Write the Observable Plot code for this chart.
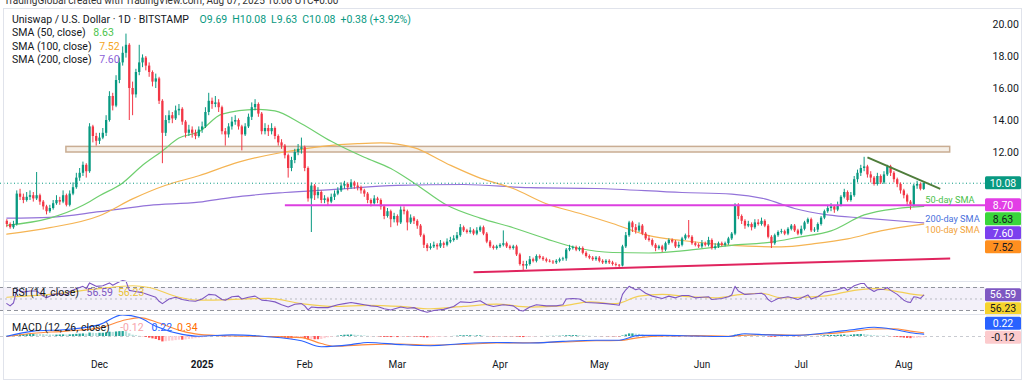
<!DOCTYPE html>
<html><head><meta charset="utf-8">
<script src="https://cdn.jsdelivr.net/npm/d3@7"></script>
<script src="https://cdn.jsdelivr.net/npm/@observablehq/plot@0.6"></script>
<style>
body{margin:0;background:#fff;font-family:Roboto,"Noto Sans",sans-serif;}
#wrap{position:relative;width:1024px;height:380px;overflow:hidden;background:#fff;}
.abs{position:absolute;}
.lg{position:absolute;left:12px;font-size:10.5px;line-height:13.4px;color:#131722;white-space:nowrap;}
.lg span{margin-left:5px;}
.sep{position:absolute;left:3px;width:1018px;height:1px;background:#e0e3eb;}
svg{overflow:visible;}
</style></head><body><div id="wrap"></div>
<script>
// ---------------- DATA ----------------
const firstDay = "2024-11-03";
const opens = [7.7,7.5,7.3,7.5,9.4,9.2,9.0,9.2,
9.3,9.1,9.3,8.9,8.6,8.3,8.5,8.8,9.0,8.9,
9.3,8.7,9.4,9.8,10.4,10.7,11.2,10.8,13.6,13.0,
12.7,12.9,13.2,14.0,15.5,14.9,16.5,17.6,18.2,18.7,
16.0,15.6,17.0,17.6,17.9,17.4,17.0,16.4,16.6,15.2,
13.2,14.0,14.3,14.1,14.6,14.7,13.9,13.2,13.4,13.2,
13.0,13.4,13.6,14.5,15.2,15.0,15.1,14.8,13.3,13.1,
13.6,13.9,14.0,13.6,13.1,13.6,14.2,14.8,15.0,14.4,
13.3,13.5,13.3,13.5,13.0,12.6,12.4,11.8,11.0,11.5,
12.0,12.2,12.3,11.0,9.1,9.9,9.3,9.5,9.0,9.1,
8.9,9.2,9.4,9.6,9.9,10.0,9.8,10.1,9.9,9.8,
9.6,9.4,9.0,8.8,9.1,9.0,8.6,8.0,8.3,7.8,
8.0,7.6,8.4,8.3,7.6,7.9,7.7,7.4,6.8,6.2,
6.0,6.1,6.2,6.1,6.3,6.2,6.4,6.5,6.6,6.8,
7.3,7.1,7.0,7.1,6.9,7.1,7.3,6.9,6.4,6.1,
6.0,6.1,6.2,6.3,6.1,6.0,6.1,5.6,5.0,4.9,
5.0,5.3,5.2,5.5,5.4,5.3,5.2,5.15,5.1,5.2,
5.3,5.35,5.9,6.0,6.05,5.9,6.0,5.7,5.5,5.4,
5.3,5.4,5.2,5.1,5.2,5.1,5.0,4.95,4.9,6.1,
6.8,7.6,7.3,7.1,7.4,6.9,6.6,6.5,6.2,6.0,
6.1,5.9,6.3,6.5,6.4,6.1,6.2,6.6,6.8,6.7,
6.3,6.2,6.1,6.3,6.2,6.5,6.0,6.1,6.3,6.2,
6.3,6.6,6.9,8.7,8.0,7.7,7.4,7.5,7.3,7.6,
7.5,7.7,7.4,6.7,6.3,6.8,7.0,7.05,6.9,7.2,
7.4,7.1,6.9,7.2,7.6,7.8,7.1,7.15,7.5,7.9,
8.3,8.5,8.6,8.4,8.7,9.2,9.5,9.0,9.3,10.3,
10.7,11.0,11.1,10.6,10.4,10.0,10.5,10.1,10.6,11.1,
10.7,10.3,10.0,9.6,9.3,8.9,8.7,9.9,10.0,9.69];
const highs = [7.8,7.6,7.7,9.6,9.7,9.4,9.5,9.6,
9.5,10.75,9.4,9.0,8.7,8.7,9.0,9.3,9.2,9.6,
9.4,9.6,10.1,10.7,11.0,11.4,11.3,13.8,13.7,13.2,
13.2,13.5,14.3,15.8,15.7,16.8,17.9,18.6,19.4,18.8,
16.4,17.2,18.7,18.1,18.0,17.6,17.1,16.9,16.7,15.3,
14.3,14.6,14.5,14.9,15.0,14.8,14.0,13.7,13.6,13.4,
13.6,13.9,14.8,15.7,15.4,15.5,15.3,14.9,13.5,13.8,
14.2,14.3,14.1,13.7,13.8,14.4,15.1,15.3,15.1,14.5,
13.8,13.7,13.8,13.6,13.1,12.8,12.5,11.9,11.7,12.2,
12.5,12.9,12.4,11.1,10.1,10.0,9.8,9.6,9.3,9.2,
9.4,9.6,9.8,10.1,10.2,10.1,10.3,10.2,10.1,9.9,
9.7,9.5,9.1,9.3,9.2,9.1,8.7,8.5,8.4,8.2,
8.1,8.6,8.6,8.4,8.1,8.0,7.8,7.5,6.9,6.3,
6.3,6.4,6.3,6.5,6.4,6.6,6.7,6.8,7.0,7.5,
7.4,7.2,7.3,7.2,7.3,7.4,7.4,7.0,6.5,6.2,
6.2,6.3,7.1,6.4,6.2,6.2,6.2,5.7,5.2,5.2,
5.5,5.4,5.6,5.6,5.5,5.4,5.3,5.25,5.3,5.4,
5.45,6.0,6.2,6.15,6.15,6.1,6.1,5.8,5.6,5.5,
5.5,5.5,5.3,5.3,5.3,5.2,5.1,5.0,6.2,7.0,
7.7,7.7,7.5,7.6,7.5,7.0,6.8,6.6,6.3,6.2,
6.2,6.4,6.6,6.6,6.5,6.4,6.7,6.9,7.75,6.8,
6.4,6.3,6.5,6.4,6.7,6.6,6.3,6.4,6.4,6.4,
6.7,7.0,8.8,8.8,8.1,7.8,7.7,7.6,7.8,7.8,
7.9,7.8,7.5,6.8,6.9,7.1,7.2,7.15,7.3,7.5,
7.5,7.2,7.4,7.7,7.9,7.9,7.3,7.6,8.0,8.4,
8.7,8.8,8.7,8.9,9.3,9.7,9.6,9.5,10.5,10.9,
11.2,11.7,11.2,10.8,10.5,10.7,10.6,10.8,11.2,11.2,
10.8,10.4,10.1,9.7,9.4,9.0,10.0,10.2,10.1,10.08];
const lows = [7.3,7.2,7.2,7.4,9.0,8.8,8.9,9.0,
8.9,9.0,8.7,8.4,8.1,8.2,8.4,8.7,8.7,8.8,
8.6,8.6,9.3,9.7,10.2,10.5,10.4,10.7,12.6,12.4,
12.5,12.8,13.0,13.9,14.6,14.8,16.3,17.4,17.9,14.0,
14.3,15.4,16.8,17.3,17.1,16.7,16.1,16.0,15.0,11.3,
13.0,13.8,13.8,14.0,14.3,13.7,12.9,13.0,12.9,12.8,
12.9,13.2,13.5,14.3,14.7,14.8,14.5,13.1,12.4,12.9,
13.4,13.7,13.4,12.1,13.0,13.5,14.0,14.6,14.2,13.1,
13.1,13.0,13.1,12.8,12.4,12.2,11.6,10.4,10.8,11.3,
11.8,11.9,10.8,8.9,7.0,9.0,9.1,8.8,8.8,8.7,
8.8,9.0,9.3,9.5,9.7,9.6,9.7,9.7,9.6,9.4,
9.2,8.8,8.6,8.7,8.8,8.4,7.8,7.9,7.3,7.6,
7.4,7.5,8.1,7.1,7.5,7.5,7.2,6.7,6.0,5.8,
5.9,6.0,5.9,6.0,6.0,6.1,6.3,6.4,6.5,6.7,
7.0,6.9,6.9,6.8,6.8,7.0,6.8,6.3,6.0,5.9,
5.9,6.0,6.1,6.0,5.9,5.9,5.5,4.9,4.6,4.7,
4.9,5.1,5.1,5.3,5.2,5.1,5.1,5.0,5.0,5.1,
5.2,5.2,5.8,5.9,5.8,5.8,5.6,5.4,5.3,5.2,
5.2,5.1,5.0,5.0,5.0,4.9,4.85,4.8,4.85,6.0,
6.7,7.0,6.9,7.0,6.8,6.5,6.4,6.1,5.8,5.9,
5.75,5.8,6.2,6.3,6.0,6.0,6.1,6.5,6.6,6.2,
6.1,6.0,6.0,6.1,6.1,5.9,5.9,6.0,6.1,6.1,
6.2,6.5,6.8,7.8,7.5,7.2,7.3,7.1,7.2,7.4,
7.4,7.3,6.6,6.0,6.2,6.7,6.9,6.8,6.8,7.1,
7.0,6.8,6.8,7.1,7.5,7.0,7.0,7.0,7.4,7.8,
8.2,8.3,8.2,8.3,8.6,9.1,8.9,8.9,9.2,10.1,
10.5,10.8,10.4,10.1,9.9,9.9,10.0,10.0,10.5,10.5,
10.1,9.8,9.4,9.1,8.7,8.4,8.6,9.7,9.6,9.63];
const closes = [7.5,7.3,7.5,9.4,9.2,9.0,9.2,9.3,
9.1,9.3,8.9,8.6,8.3,8.5,8.8,9.0,8.9,9.3,
8.7,9.4,9.8,10.4,10.7,11.2,10.8,13.6,13.0,12.7,
12.9,13.2,14.0,15.5,14.9,16.5,17.6,18.2,18.7,16.0,
15.6,17.0,17.6,17.9,17.4,17.0,16.4,16.6,15.2,13.2,
14.0,14.3,14.1,14.6,14.7,13.9,13.2,13.4,13.2,13.0,
13.4,13.6,14.5,15.2,15.0,15.1,14.8,13.3,13.1,13.6,
13.9,14.0,13.6,13.1,13.6,14.2,14.8,15.0,14.4,13.3,
13.5,13.3,13.5,13.0,12.6,12.4,11.8,11.0,11.5,12.0,
12.2,12.3,11.0,9.1,9.9,9.3,9.5,9.0,9.1,8.9,
9.2,9.4,9.6,9.9,10.0,9.8,10.1,9.9,9.8,9.6,
9.4,9.0,8.8,9.1,9.0,8.6,8.0,8.3,7.8,8.0,
7.6,8.4,8.3,7.6,7.9,7.7,7.4,6.8,6.2,6.0,
6.1,6.2,6.1,6.3,6.2,6.4,6.5,6.6,6.8,7.3,
7.1,7.0,7.1,6.9,7.1,7.3,6.9,6.4,6.1,6.0,
6.1,6.2,6.3,6.1,6.0,6.1,5.6,5.0,4.9,5.0,
5.3,5.2,5.5,5.4,5.3,5.2,5.15,5.1,5.2,5.3,
5.35,5.9,6.0,6.05,5.9,6.0,5.7,5.5,5.4,5.3,
5.4,5.2,5.1,5.2,5.1,5.0,4.95,4.9,6.1,6.8,
7.6,7.3,7.1,7.4,6.9,6.6,6.5,6.2,6.0,6.1,
5.9,6.3,6.5,6.4,6.1,6.2,6.6,6.8,6.7,6.3,
6.2,6.1,6.3,6.2,6.5,6.0,6.1,6.3,6.2,6.3,
6.6,6.9,8.7,8.0,7.7,7.4,7.5,7.3,7.6,7.5,
7.7,7.4,6.7,6.3,6.8,7.0,7.05,6.9,7.2,7.4,
7.1,6.9,7.2,7.6,7.8,7.1,7.15,7.5,7.9,8.3,
8.5,8.6,8.4,8.7,9.2,9.5,9.0,9.3,10.3,10.7,
11.0,11.1,10.6,10.4,10.0,10.5,10.1,10.6,11.1,10.7,
10.3,10.0,9.6,9.3,8.9,8.7,9.9,10.0,9.70,10.08];

const sma50 = [["2024-11-03",7.45],["2024-11-16",7.9],["2024-11-26",8.7],["2024-12-01",9.3],["2024-12-08",10.1],["2024-12-14",11.2],["2024-12-20",12.1],["2024-12-25",12.9],["2024-12-31",13.3],["2025-01-07",14.4],["2025-01-18",14.7],["2025-01-23",14.6],["2025-01-31",13.8],["2025-02-09",12.7],["2025-02-19",11.7],["2025-02-27",11.0],["2025-03-06",10.1],["2025-03-16",8.7],["2025-03-26",7.9],["2025-04-05",7.3],["2025-04-15",6.6],["2025-04-25",6.0],["2025-05-05",5.75],["2025-05-16",5.72],["2025-05-26",5.85],["2025-06-10",6.2],["2025-06-22",6.4],["2025-06-30",6.7],["2025-07-10",7.1],["2025-07-20",8.1],["2025-07-30",8.5],["2025-08-07",8.63]];
const sma100 = [["2024-11-03",6.9],["2024-11-16",7.3],["2024-12-01",8.05],["2024-12-11",9.1],["2024-12-21",9.95],["2024-12-31",10.55],["2025-01-12",11.4],["2025-01-25",12.0],["2025-02-07",12.4],["2025-02-17",12.55],["2025-02-24",12.6],["2025-03-06",12.3],["2025-03-16",11.3],["2025-03-26",10.4],["2025-04-05",9.75],["2025-04-15",8.8],["2025-04-25",8.2],["2025-05-05",7.56],["2025-05-16",6.8],["2025-05-26",6.5],["2025-06-10",6.2],["2025-06-25",6.1],["2025-07-05",6.3],["2025-07-15",6.6],["2025-07-25",7.1],["2025-08-07",7.52]];
const sma200 = [["2024-11-03",7.9],["2024-11-16",7.95],["2024-12-01",8.3],["2024-12-16",8.7],["2024-12-31",8.9],["2025-01-10",9.2],["2025-01-26",9.5],["2025-02-10",9.7],["2025-03-01",9.95],["2025-03-21",10.0],["2025-04-10",9.8],["2025-04-30",9.75],["2025-05-26",9.5],["2025-06-10",9.4],["2025-06-20",9.1],["2025-06-29",8.5],["2025-07-09",8.1],["2025-07-20",7.9],["2025-08-07",7.6]];

const rsi = [["2024-11-03",42],["2024-11-04",38],["2024-11-05",43],["2024-11-06",66],["2024-11-08",62],["2024-11-10",64],["2024-11-12",64],["2024-11-14",55],["2024-11-15",52],["2024-11-17",58],["2024-11-19",59],["2024-11-21",57],["2024-11-22",63],["2024-11-24",68],["2024-11-26",72],["2024-11-27",68],["2024-11-28",78],["2024-11-30",72],["2024-12-02",73],["2024-12-04",78],["2024-12-05",74],["2024-12-07",80],["2024-12-08",82],["2024-12-09",81],["2024-12-10",65],["2024-12-11",64],["2024-12-13",62],["2024-12-14",61],["2024-12-16",57],["2024-12-18",53],["2024-12-19",46],["2024-12-20",42],["2024-12-22",50],["2024-12-24",53],["2024-12-26",49],["2024-12-28",47],["2024-12-30",46],["2025-01-01",50],["2025-01-03",58],["2025-01-05",57],["2025-01-07",49],["2025-01-08",48],["2025-01-10",54],["2025-01-12",55],["2025-01-13",50],["2025-01-15",53],["2025-01-17",55],["2025-01-19",48],["2025-01-21",47],["2025-01-23",45],["2025-01-25",40],["2025-01-27",36],["2025-01-29",41],["2025-01-31",42],["2025-02-01",38],["2025-02-02",31],["2025-02-03",36],["2025-02-05",35],["2025-02-08",35],["2025-02-11",40],["2025-02-13",42],["2025-02-15",44],["2025-02-17",42],["2025-02-19",40],["2025-02-21",38],["2025-02-23",37],["2025-02-25",33],["2025-02-27",31],["2025-03-02",36],["2025-03-04",34],["2025-03-06",35],["2025-03-08",30],["2025-03-10",27],["2025-03-12",30],["2025-03-15",32],["2025-03-18",37],["2025-03-20",45],["2025-03-23",44],["2025-03-26",47],["2025-03-28",40],["2025-03-30",37],["2025-04-02",40],["2025-04-05",38],["2025-04-07",30],["2025-04-08",29],["2025-04-10",36],["2025-04-12",40],["2025-04-15",38],["2025-04-18",38],["2025-04-20",40],["2025-04-21",50],["2025-04-23",51],["2025-04-25",50],["2025-04-27",44],["2025-04-30",43],["2025-05-03",42],["2025-05-06",40],["2025-05-07",39],["2025-05-08",58],["2025-05-09",66],["2025-05-10",72],["2025-05-12",66],["2025-05-13",68],["2025-05-15",60],["2025-05-17",55],["2025-05-20",51],["2025-05-22",55],["2025-05-24",52],["2025-05-26",56],["2025-05-28",56],["2025-05-30",52],["2025-06-01",53],["2025-06-03",54],["2025-06-04",49],["2025-06-07",51],["2025-06-09",54],["2025-06-10",57],["2025-06-11",72],["2025-06-12",64],["2025-06-14",58],["2025-06-17",59],["2025-06-19",60],["2025-06-20",57],["2025-06-21",49],["2025-06-22",45],["2025-06-24",51],["2025-06-27",54],["2025-06-29",51],["2025-06-30",49],["2025-07-03",57],["2025-07-04",50],["2025-07-06",54],["2025-07-08",62],["2025-07-10",64],["2025-07-12",66],["2025-07-14",70],["2025-07-15",65],["2025-07-17",73],["2025-07-19",77],["2025-07-20",77],["2025-07-21",70],["2025-07-23",63],["2025-07-24",66],["2025-07-26",67],["2025-07-27",70],["2025-07-28",65],["2025-07-30",58],["2025-08-01",48],["2025-08-02",45],["2025-08-03",44],["2025-08-04",54],["2025-08-05",53],["2025-08-06",51],["2025-08-07",56.59]];
const rsiMA = [["2024-11-03",53],["2024-11-16",58],["2024-12-01",68],["2024-12-11",73],["2024-12-16",70],["2024-12-25",53],["2024-12-31",48],["2025-01-21",51],["2025-01-31",42],["2025-02-10",37],["2025-02-20",39],["2025-03-02",37],["2025-03-11",33],["2025-03-21",37],["2025-03-31",41],["2025-04-10",36],["2025-04-20",38],["2025-04-28",45],["2025-05-06",42],["2025-05-13",55],["2025-05-20",58],["2025-05-28",54],["2025-06-05",52],["2025-06-13",58],["2025-06-19",60],["2025-06-25",52],["2025-07-01",53],["2025-07-09",56],["2025-07-17",65],["2025-07-23",68],["2025-07-27",66],["2025-07-31",62],["2025-08-04",58],["2025-08-07",56.23]];

const macd = [["2024-11-03",0.02],["2024-11-11",0.5],["2024-11-21",0.65],["2024-12-01",1.1],["2024-12-08",2.0],["2024-12-13",1.75],["2024-12-18",0.95],["2024-12-26",0.2],["2024-12-31",0.03],["2025-01-10",0.15],["2025-01-20",0.0],["2025-01-31",-0.4],["2025-02-06",-0.95],["2025-02-15",-0.75],["2025-02-20",-0.55],["2025-03-02",-0.75],["2025-03-11",-0.85],["2025-03-21",-0.65],["2025-03-31",-0.55],["2025-04-10",-0.6],["2025-04-20",-0.45],["2025-04-30",-0.35],["2025-05-07",-0.35],["2025-05-13",0.1],["2025-05-20",0.1],["2025-05-30",0.05],["2025-06-09",0.0],["2025-06-14",0.25],["2025-06-21",0.15],["2025-06-29",0.1],["2025-07-09",0.35],["2025-07-17",0.65],["2025-07-23",0.85],["2025-07-29",0.65],["2025-08-03",0.35],["2025-08-07",0.22]];
const signal = [["2024-11-03",0.0],["2024-11-11",0.3],["2024-11-21",0.5],["2024-12-01",0.8],["2024-12-09",1.55],["2024-12-13",1.75],["2024-12-19",1.25],["2024-12-26",0.5],["2024-12-31",0.2],["2025-01-10",0.05],["2025-01-20",0.0],["2025-01-31",-0.1],["2025-02-06",-0.65],["2025-02-10",-0.9],["2025-02-20",-0.75],["2025-03-02",-0.7],["2025-03-11",-0.8],["2025-03-21",-0.72],["2025-03-31",-0.6],["2025-04-10",-0.58],["2025-04-20",-0.5],["2025-04-30",-0.4],["2025-05-07",-0.37],["2025-05-13",-0.1],["2025-05-20",0.05],["2025-05-30",0.08],["2025-06-09",0.03],["2025-06-14",0.12],["2025-06-21",0.18],["2025-06-29",0.12],["2025-07-09",0.25],["2025-07-17",0.5],["2025-07-23",0.7],["2025-07-29",0.72],["2025-08-03",0.5],["2025-08-07",0.34]];
const histogram = [0.02,0.05,0.06,0.12,0.15,0.17,0.18,0.18,
0.2,0.19,0.18,0.17,0.15,0.14,0.13,0.13,0.14,0.15,
0.14,0.15,0.17,0.2,0.22,0.24,0.22,0.32,0.3,0.28,
0.3,0.3,0.34,0.4,0.38,0.42,0.45,0.46,0.44,0.25,
0.12,0.08,0.02,-0.02,-0.08,-0.15,-0.22,-0.28,-0.38,-0.5,
-0.48,-0.44,-0.42,-0.38,-0.34,-0.34,-0.32,-0.28,-0.24,-0.2,
-0.16,-0.12,-0.04,0.04,0.06,0.08,0.06,-0.02,-0.05,-0.04,
0.0,0.02,0.02,-0.01,0.0,0.03,0.06,0.08,0.06,0.0,
-0.02,-0.04,-0.05,-0.07,-0.1,-0.12,-0.16,-0.22,-0.22,-0.2,
-0.18,-0.16,-0.22,-0.32,-0.3,-0.3,-0.3,-0.28,-0.2,-0.12,
-0.06,-0.02,0.03,0.08,0.12,0.13,0.14,0.12,0.1,0.08,
0.05,0.02,-0.01,0.0,-0.02,-0.05,-0.08,-0.08,-0.1,-0.09,
-0.1,-0.05,-0.03,-0.05,-0.04,-0.04,-0.05,-0.08,-0.12,-0.13,
-0.12,-0.1,-0.08,-0.06,-0.05,-0.03,-0.01,0.01,0.03,0.07,
0.07,0.07,0.07,0.06,0.06,0.06,0.04,0.01,-0.02,-0.03,
-0.03,-0.02,-0.02,-0.02,-0.02,-0.02,-0.04,-0.08,-0.1,-0.09,
-0.06,-0.05,-0.02,-0.01,0.0,0.01,0.01,0.02,0.02,0.03,
0.04,0.07,0.08,0.08,0.08,0.07,0.05,0.04,0.02,0.01,
0.0,-0.01,-0.01,-0.01,-0.02,-0.02,-0.03,-0.03,0.05,0.14,
0.24,0.24,0.22,0.2,0.15,0.1,0.06,0.02,-0.01,-0.03,
-0.04,-0.03,-0.02,-0.03,-0.04,-0.04,-0.03,-0.02,-0.02,-0.03,
-0.04,-0.04,-0.03,-0.03,-0.02,-0.04,-0.04,-0.04,-0.04,-0.03,
-0.02,0.0,0.12,0.15,0.14,0.12,0.1,0.08,0.07,0.05,
0.04,0.02,-0.04,-0.08,-0.08,-0.07,-0.06,-0.05,-0.03,-0.02,
-0.02,-0.03,-0.01,0.01,0.03,0.0,-0.01,0.01,0.04,0.07,
0.09,0.1,0.1,0.11,0.13,0.14,0.12,0.12,0.16,0.18,
0.19,0.18,0.14,0.1,0.07,0.05,0.03,0.02,0.02,-0.01,
-0.05,-0.08,-0.12,-0.15,-0.18,-0.2,-0.17,-0.15,-0.14,-0.12];

const supportLevel = 8.70;
const supportStart = "2025-01-26";
const band = {x1:"2024-11-21", x2:"2025-08-15", y1:12.0, y2:12.35};
const risingSupport = {x1:"2025-03-24", y1:4.52, x2:"2025-08-15", y2:5.38};
const fallingResistance = {x1:"2025-07-21", y1:11.7, x2:"2025-08-12", y2:9.73};
const annotations = [
  {date:"2025-08-07T12:00:00Z", price:9.0, text:"50-day SMA", color:"#4cbf4c"},
  {date:"2025-08-07T12:00:00Z", price:7.86, text:"200-day SMA", color:"#4a70dc"},
  {date:"2025-08-07T12:00:00Z", price:7.17, text:"100-day SMA", color:"#f2a33a"}
];
const priceTicks = [12,14,16,18,20];
const monthTicks = ["2024-12-01","2025-01-01","2025-02-01","2025-03-01","2025-04-01","2025-05-01","2025-06-01","2025-07-01","2025-08-01"];
const monthLabels = ["Dec","2025","Feb","Mar","Apr","May","Jun","Jul","Aug"];

// ---------------- BUILD ----------------
const UP="#089981", DOWN="#f23645";
const base = new Date(firstDay).getTime(), DAY=864e5;
const candles = closes.map((c,i)=>({date:new Date(base+i*DAY), open:opens[i], high:highs[i], low:lows[i], close:c}));
const pts = a => a.map(([d,v])=>({date:new Date(d), v}));
const hist = histogram.map((v,i)=>({date:new Date(base+i*DAY), v,
  color: v>=0 ? (i>0 && v<histogram[i-1] ? "#b2dfdb" : "#26a69a") : (i>0 && v>histogram[i-1] ? "#ffcdd2" : "#ff5252")}));
const last = candles[candles.length-1], prevClose = closes[closes.length-2];

const dec1 = Date.UTC(2024,11,1);
const xDomain = [new Date(dec1 - 29.91*DAY), new Date(dec1 + 267.67*DAY)];
const W=1024, MR=39;
const common = {width:W, marginLeft:0, marginRight:MR, marginTop:0, color:{type:"identity"},
  style:{fontFamily:"Roboto, 'Noto Sans', sans-serif", fontSize:"10px", color:"#131722", background:"transparent", overflow:"visible"}};
const wrap = document.getElementById("wrap");

function place(el, top){ el.style.position="absolute"; el.style.left="0px"; el.style.top=top+"px"; wrap.appendChild(el); }

function labels(chart, items, dir){
  const sy = chart.scale("y");
  const L = items.map(d=>({...d, y: sy.apply(d.value)}));
  if(dir==="down"){ L.sort((a,b)=>a.y-b.y); for(let i=1;i<L.length;i++) L[i].y=Math.max(L[i].y, L[i-1].y+14); }
  else { L.sort((a,b)=>b.y-a.y); for(let i=1;i<L.length;i++) L[i].y=Math.min(L[i].y, L[i-1].y-14); }
  const g = d3.select(chart).append("g");
  for(const d of L){
    g.append("rect").attr("x",W-MR).attr("y",d.y-6.5).attr("width",36).attr("height",13).attr("rx",1.5).attr("fill",d.bg);
    g.append("text").attr("x",W-MR+18).attr("y",d.y).attr("dy","0.36em").attr("text-anchor","middle")
      .attr("font-size",10.5).attr("fill",d.fg).text(d.text);
  }
}

// main price panel
const main = Plot.plot({...common, height:281, marginBottom:0,
  x:{type:"utc", domain:xDomain, axis:null},
  y:{domain:[3.9375,21.5], axis:null},
  marks:[
    Plot.rect([band],{x1:d=>new Date(d.x1), x2:d=>new Date(d.x2), y1:"y1", y2:"y2", fill:"#f5efe7", stroke:"#c9ad93", strokeWidth:1.5}),
    Plot.line(pts(sma200),{x:"date", y:"v", stroke:"#9373d9", strokeWidth:1.2, curve:"monotone-x"}),
    Plot.line(pts(sma100),{x:"date", y:"v", stroke:"#f5b453", strokeWidth:1.2, curve:"monotone-x"}),
    Plot.line(pts(sma50),{x:"date", y:"v", stroke:"#6fcf6f", strokeWidth:1.2, curve:"monotone-x"}),
    Plot.ruleY([last.close],{stroke:UP, strokeDasharray:"1,2.5", strokeWidth:1}),
    Plot.ruleX(candles,{x:"date", y1:"low", y2:"high", stroke:d=>d.close>=d.open?UP:DOWN, strokeWidth:1}),
    Plot.ruleX(candles,{x:"date", y1:"open", y2:"close", stroke:d=>d.close>=d.open?UP:DOWN, strokeWidth:2.3}),
    Plot.link([{a:new Date(supportStart), b:xDomain[1]}],{x1:"a", x2:"b", y1:supportLevel, y2:supportLevel, stroke:"#dc3fe0", strokeWidth:2}),
    Plot.link([risingSupport],{x1:d=>new Date(d.x1), x2:d=>new Date(d.x2), y1:"y1", y2:"y2", stroke:"#e0245e", strokeWidth:2}),
    Plot.link([fallingResistance],{x1:d=>new Date(d.x1), x2:d=>new Date(d.x2), y1:"y1", y2:"y2", stroke:"#4f7d3b", strokeWidth:2}),
    Plot.text(annotations,{x:d=>new Date(d.date), y:"price", text:"text", fill:"color", textAnchor:"start", fontSize:9.2}),
    Plot.axisY(priceTicks,{anchor:"right", tickSize:0, tickPadding:7, label:null, tickFormat:d=>d.toFixed(2), fill:"#131722", fontSize:10.5})
  ]});
place(main, 0);
labels(main, [
  {value:last.close, text:last.close.toFixed(2), bg:"#089981", fg:"#fff"},
  {value:supportLevel, text:supportLevel.toFixed(2), bg:"#e23ee6", fg:"#fff"},
  {value:sma50[sma50.length-1][1], text:sma50[sma50.length-1][1].toFixed(2), bg:"#3ad63a", fg:"#131722"},
  {value:sma200[sma200.length-1][1], text:sma200[sma200.length-1][1].toFixed(2), bg:"#7c40ee", fg:"#fff"},
  {value:sma100[sma100.length-1][1], text:sma100[sma100.length-1][1].toFixed(2), bg:"#ff8f1f", fg:"#131722"}
], "down");

// RSI panel
const rsiPlot = Plot.plot({...common, height:33, marginBottom:0,
  x:{type:"utc", domain:xDomain, axis:null},
  y:{domain:[23.04,80.43], axis:null},
  marks:[
    Plot.rect([{a:xDomain[0], b:xDomain[1]}],{x1:"a", x2:"b", y1:30, y2:70, fill:"#7e57c2", fillOpacity:0.09}),
    Plot.ruleY([70,30],{stroke:"#8f929b", strokeDasharray:"4,3", strokeWidth:1}),
    Plot.ruleY([50],{stroke:"#a9acb5", strokeDasharray:"2,3", strokeWidth:1, strokeOpacity:0.8}),
    Plot.line(pts(rsiMA),{x:"date", y:"v", stroke:"#f3cf55", strokeWidth:1.2, curve:"monotone-x"}),
    Plot.line(pts(rsi),{x:"date", y:"v", stroke:"#7e57c2", strokeWidth:1.1})
  ]});
place(rsiPlot, 281);
labels(rsiPlot, [
  {value:rsi[rsi.length-1][1], text:rsi[rsi.length-1][1].toFixed(2), bg:"#7e57c2", fg:"#fff"},
  {value:rsiMA[rsiMA.length-1][1], text:rsiMA[rsiMA.length-1][1].toFixed(2), bg:"#f6d32d", fg:"#131722"}
], "down");

// MACD panel + time axis
const tickDates = monthTicks.map(d=>new Date(d));
const tickLabel = new Map(tickDates.map((d,i)=>[+d, monthLabels[i]]));
const macdPlot = Plot.plot({...common, height:66, marginBottom:30,
  x:{type:"utc", domain:xDomain},
  y:{domain:[-1.296,2.037], axis:null},
  marks:[
    Plot.ruleY([0],{stroke:"#b2b5be", strokeDasharray:"3,3", strokeOpacity:0.7}),
    Plot.ruleX(hist,{x:"date", y1:0, y2:"v", stroke:"color", strokeWidth:2.3}),
    Plot.line(pts(signal),{x:"date", y:"v", stroke:"#ff8a3d", strokeWidth:1.1, curve:"monotone-x"}),
    Plot.line(pts(macd),{x:"date", y:"v", stroke:"#2962ff", strokeWidth:1.1, curve:"monotone-x"}),
    Plot.axisX(tickDates.filter((d,i)=>monthLabels[i]!=="2025"),{tickSize:0, tickPadding:10, label:null, tickFormat:d=>tickLabel.get(+d), fill:"#131722", fontSize:10}),
    Plot.axisX(tickDates.filter((d,i)=>monthLabels[i]==="2025"),{tickSize:0, tickPadding:10, label:null, tickFormat:d=>tickLabel.get(+d), fill:"#131722", fontSize:10, fontWeight:"bold"})
  ]});
place(macdPlot, 314);
labels(macdPlot, [
  {value:histogram[histogram.length-1], text:histogram[histogram.length-1].toFixed(2), bg:"#fccbcd", fg:"#131722"},
  {value:macd[macd.length-1][1], text:macd[macd.length-1][1].toFixed(2), bg:"#2962ff", fg:"#fff"}
], "up");

// frame, separators, legends
function div(cls, css, html){ const e=document.createElement("div"); e.className=cls; e.style.cssText=css; e.innerHTML=html; wrap.appendChild(e); return e; }
div("abs","left:3px;top:8px;width:1017px;height:370px;border:1px solid #e0e3eb;pointer-events:none;","");
div("sep","top:281px;","");
div("sep","top:314px;","");
div("abs","left:4px;top:-5px;font-size:10px;line-height:12px;color:#333;white-space:nowrap;","TradingGlobal created with TradingView.com, Aug 07, 2025 10:06 UTC+0:00");
const f=v=>v.toFixed(2), chg=last.close-prevClose;
div("lg","top:13px;",`Uniswap / U.S. Dollar · 1D · BITSTAMP <span style="color:${UP};margin-left:8px">O${f(last.open)}</span><span style="color:${UP}">H${f(last.high)}</span><span style="color:${UP}">L${f(last.low)}</span><span style="color:${UP}">C${f(last.close)}</span><span style="color:${UP}">+${f(chg)} (+${(chg/prevClose*100).toFixed(2)}%)</span>`);
div("lg","top:26.4px;",`SMA (50, close) <span style="color:#4cc44c">${f(sma50[sma50.length-1][1])}</span>`);
div("lg","top:39.8px;",`SMA (100, close) <span style="color:#f5a623">${f(sma100[sma100.length-1][1])}</span>`);
div("lg","top:53.2px;",`SMA (200, close) <span style="color:#8c5fd9">${f(sma200[sma200.length-1][1])}</span>`);
div("lg","top:286px;",`RSI (14, close) <span style="color:#7e57c2">${f(rsi[rsi.length-1][1])}</span><span style="color:#e9c23a">${f(rsiMA[rsiMA.length-1][1])}</span>`);
div("lg","top:321px;",`MACD (12, 26, close) <span style="color:#f7a3aa;margin-left:8px">${f(histogram[histogram.length-1])}</span><span style="color:#2962ff;margin-left:8px">${f(macd[macd.length-1][1])}</span><span style="color:#ff6d00">${f(signal[signal.length-1][1])}</span>`);
</script></body></html>
